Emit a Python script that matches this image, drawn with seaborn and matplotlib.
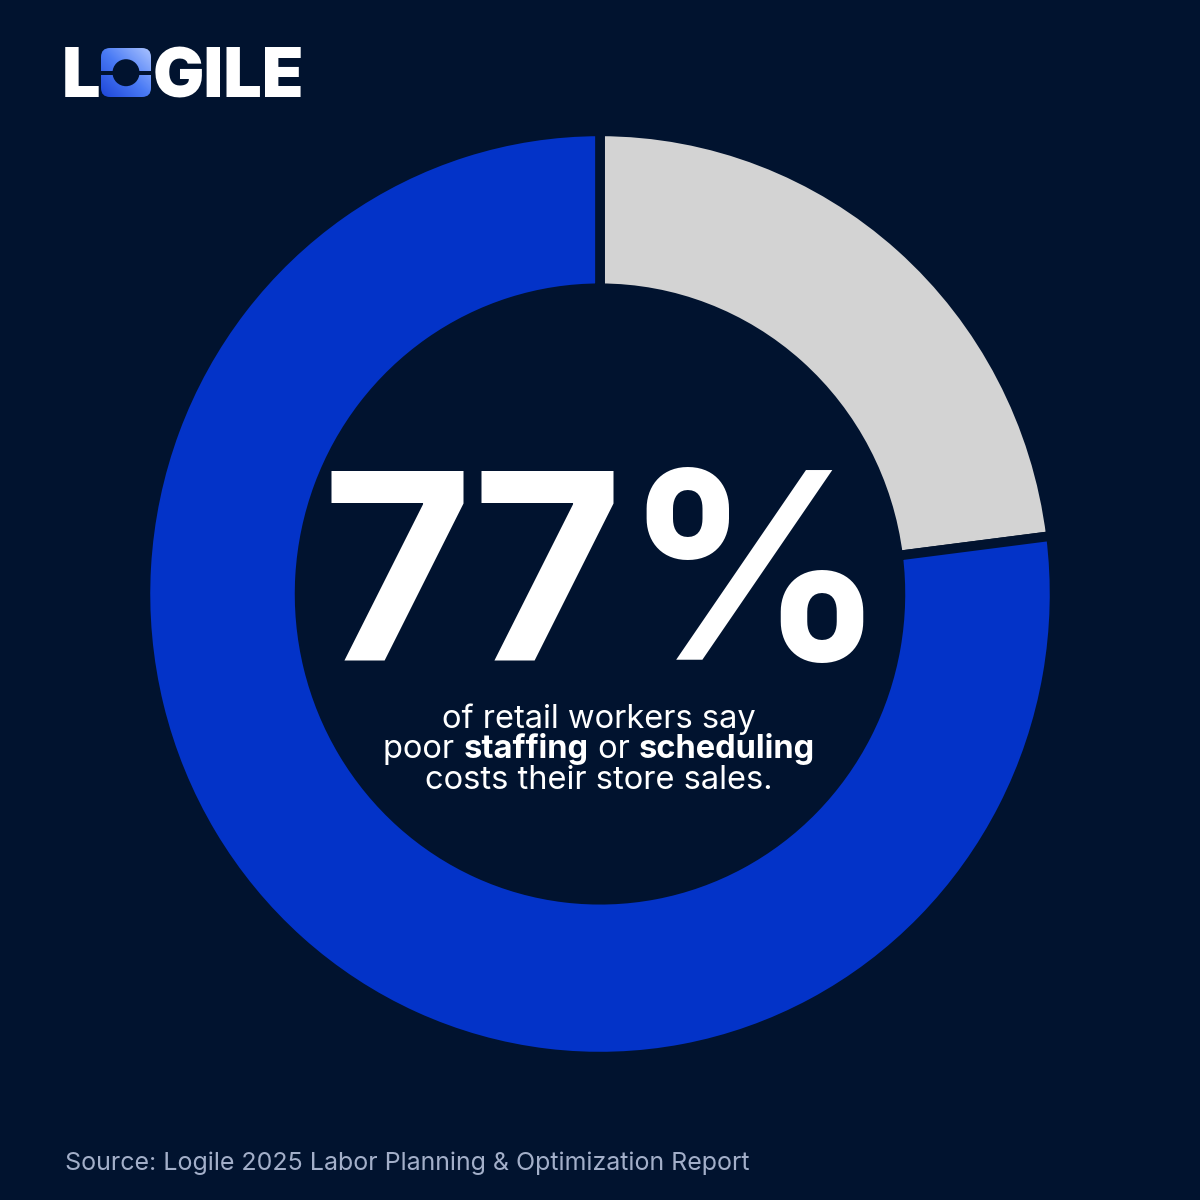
import numpy as np
import matplotlib.pyplot as plt
import seaborn as sns
from matplotlib.patches import FancyBboxPatch, Circle, Rectangle

# data
labels = ['Other', 'Say poor staffing/scheduling costs sales']
values = [23, 77]
headline = '77%'
subtitle = [
    [('of retail workers say', 'normal')],
    [('poor ', 'normal'), ('staffing', 'bold'), (' or ', 'normal'), ('scheduling', 'bold')],
    [('costs their store sales.', 'normal')],
]
source = 'Source: Logile 2025 Labor Planning & Optimization Report'

bg = '#01132F'
blue = '#0333C8'
gray = '#D3D3D3'

sns.set_style('white')
plt.rcParams['font.family'] = ['Inter', 'DejaVu Sans']

W = H = 1200
fig = plt.figure(figsize=(12, 12), dpi=100, facecolor=bg)

# donut in its own axes (box in pixels: x 149..1051, y 135..1053 from top)
pax = fig.add_axes([149 / W, 1 - 1053 / H, 902 / W, 918 / H])
pax.pie(values, colors=[gray, blue], startangle=90, counterclock=False,
        radius=1.008,
        wedgeprops=dict(width=0.342, edgecolor=bg, linewidth=7))
pax.set_aspect('auto')
pax.set_xlim(-1, 1)
pax.set_ylim(-1, 1)
pax.axis('off')

# overlay axes in pixel units for text and logo
ax = fig.add_axes([0, 0, 1, 1])
ax.set_xlim(0, W)
ax.set_ylim(0, H)
ax.patch.set_alpha(0)
ax.axis('off')

# headline
ax.text(604, H - 660, headline, ha='center', va='baseline', color='white',
        fontsize=187, fontweight='bold')

# subtitle with mixed weights, each line centred
fig.canvas.draw()
renderer = fig.canvas.get_renderer()
baselines = [H - 728, H - 758, H - 789]
for parts, yb in zip(subtitle, baselines):
    pieces = []
    for txt, w in parts:
        t = ax.text(0, yb, txt, ha='left', va='baseline', color='white',
                    fontsize=23.5, fontweight=w)
        pieces.append(t)
    widths = [p.get_window_extent(renderer).width for p in pieces]
    x = 599 - sum(widths) / 2
    for p, wd in zip(pieces, widths):
        p.set_x(x)
        x += wd

# logo
ax.text(62, H - 97, 'L', ha='left', va='baseline', color='white',
        fontsize=49, fontweight='black')
box = FancyBboxPatch((101, H - 97), 50, 49,
                     boxstyle='round,pad=0,rounding_size=9',
                     facecolor='none', edgecolor='none')
ax.add_patch(box)
gx, gy = np.meshgrid(np.linspace(0, 1, 60), np.linspace(0, 1, 60))
grad = gx - gy  # light at bottom-left, dark at top-right
img = ax.imshow(grad, extent=(101, 151, H - 97, H - 48), origin='upper',
                cmap=sns.blend_palette(['#1E46D8', '#4A7BF5', '#A9C2FF'], as_cmap=True),
                vmin=-1, vmax=1, aspect='auto', zorder=2)
img.set_clip_path(box)
ax.add_patch(Rectangle((101, H - 75), 50, 4.5, facecolor=bg, edgecolor='none', zorder=3))
ax.add_patch(Circle((126, H - 72.7), 13.5, facecolor=bg, edgecolor='none', zorder=3))
ax.text(153, H - 97, 'GILE', ha='left', va='baseline', color='white',
        fontsize=49, fontweight='black')
ax.set_xlim(0, W)
ax.set_ylim(0, H)

# source
ax.text(65, H - 1170, source, ha='left', va='baseline', color='#A3AFC9',
        fontsize=18)

fig.savefig('out.png', dpi=100, facecolor=bg)
